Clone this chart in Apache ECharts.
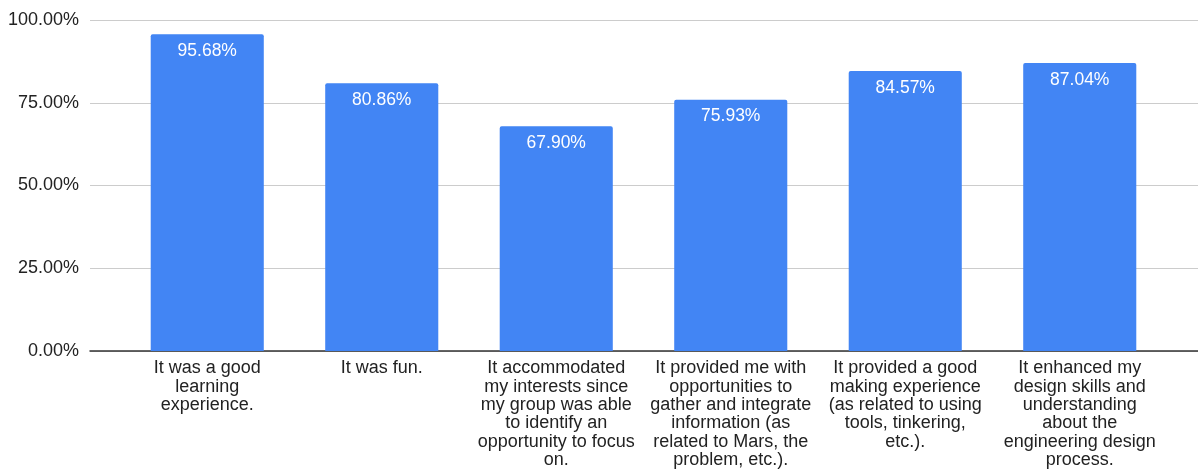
<!DOCTYPE html>
<html>
<head>
<meta charset="utf-8">
<style>
  html, body { margin: 0; padding: 0; background: #fff; }
  #chart { width: 1198px; height: 470px; }
</style>
<script src="https://cdn.jsdelivr.net/npm/echarts@6/dist/echarts.min.js"></script>
</head>
<body>
<div id="chart"></div>
<script>
// Survey statements (line breaks as they wrap under each bar)
const categories = [
  'It was a good\nlearning\nexperience.',
  'It was fun.',
  'It accommodated\nmy interests since\nmy group was able\nto identify an\nopportunity to focus\non.',
  'It provided me with\nopportunities to\ngather and integrate\ninformation (as\nrelated to Mars, the\nproblem, etc.).',
  'It provided a good\nmaking experience\n(as related to using\ntools, tinkering,\netc.).',
  'It enhanced my\ndesign skills and\nunderstanding\nabout the\nengineering design\nprocess.'
];

// Share of respondents agreeing, in percent
const agreePercent = [95.68, 80.86, 67.90, 75.93, 84.57, 87.04];

// Value axis range and tick step
const yMin = 0;
const yMax = 100;
const yStep = 25;

const FONT = '"Liberation Sans", Arial, sans-serif';
const pct = v => v.toFixed(2) + '%';

const chart = echarts.init(document.getElementById('chart'), null, { renderer: 'canvas' });

chart.setOption({
  animation: false,
  textStyle: { fontFamily: FONT },
  grid: [
    // full-width grid: gridlines, y labels and baseline
    { left: 90, right: 0, top: 20, bottom: 119, containLabel: false },
    // inner grid: the bars and category labels
    { left: 120, right: 31, top: 20, bottom: 119, containLabel: false }
  ],
  xAxis: [
    {
      gridIndex: 0, type: 'value', min: 0, max: 1,
      axisLine: { show: true, onZero: false, lineStyle: { color: '#333', width: 1.5 } },
      axisTick: { show: false }, axisLabel: { show: false }, splitLine: { show: false }
    },
    {
      gridIndex: 1, type: 'category', data: categories,
      axisLine: { show: false }, axisTick: { show: false },
      axisLabel: {
        interval: 0, color: '#222', fontSize: 18, fontFamily: FONT,
        lineHeight: 18.4, margin: 8, verticalAlign: 'top', align: 'center'
      }
    }
  ],
  yAxis: [
    {
      gridIndex: 0, type: 'value', min: yMin, max: yMax, interval: yStep,
      axisLine: { show: false }, axisTick: { show: false },
      axisLabel: { color: '#222', fontSize: 18, fontFamily: FONT, margin: 11, formatter: pct },
      splitLine: { show: true, lineStyle: { color: '#cccccc', width: 1 } }
    },
    {
      gridIndex: 1, type: 'value', min: yMin, max: yMax, interval: yStep, show: false,
      splitLine: { show: false }
    }
  ],
  series: [
    {
      type: 'bar',
      xAxisIndex: 1, yAxisIndex: 1,
      data: agreePercent,
      barWidth: '64.8%',
      itemStyle: { color: '#4285F4', borderRadius: [2, 2, 0, 0] },
      label: {
        show: true, position: 'insideTop', distance: 8,
        color: '#ffffff', fontSize: 17.5, fontFamily: FONT,
        formatter: p => pct(p.value)
      },
      z: 3
    }
  ]
});
</script>
</body>
</html>
